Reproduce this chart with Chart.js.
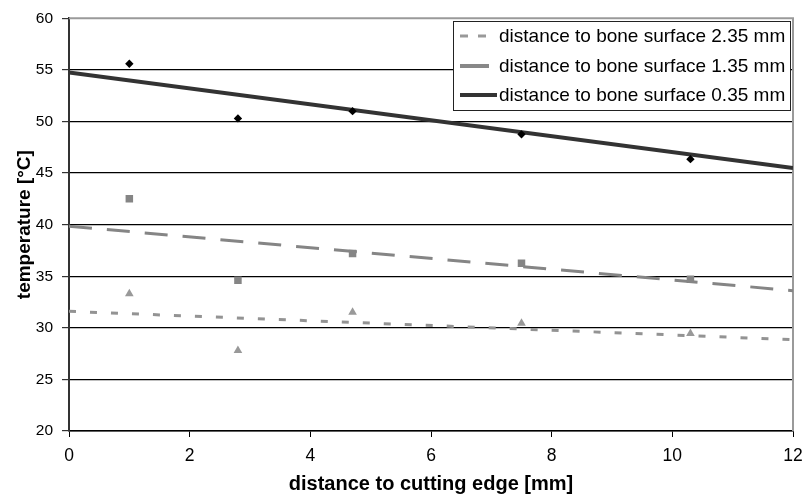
<!DOCTYPE html>
<html>
<head>
<meta charset="utf-8">
<script src="https://cdn.jsdelivr.net/npm/chart.js@4.4.0/dist/chart.umd.min.js"></script>
<style>
  html, body { margin: 0; padding: 0; background: #fff; }
  #wrap { width: 805px; height: 502px; }
</style>
</head>
<body>
<div id="wrap"><canvas id="tempChart" width="805" height="502"></canvas></div>
<script>
// Measured temperatures at each distance to the cutting edge
const edgeDistance = [1, 2.8, 4.7, 7.5, 10.3];
const temp035 = [55.6, 50.3, 51.0, 48.75, 46.35];
const temp135 = [42.5, 34.6, 37.2, 36.25, 34.7];
const temp235 = [33.3, 27.8, 31.5, 30.45, 29.45];

// Linear trend lines (values at x = 0 and x = 12)
const trendX = [0, 12];
const trend035 = [54.75, 45.5];
const trend135 = [39.85, 33.6];
const trend235 = [31.6, 28.85];

const seriesLabels = [
    'distance to bone surface 2.35 mm',
    'distance to bone surface 1.35 mm',
    'distance to bone surface 0.35 mm'
];

const toPoints = (xs, ys) => xs.map((x, i) => ({ x: x, y: ys[i] }));

// Plot frame (gray top and right edge) plus the boxed legend inside the plot
const frameAndLegend = {
    id: 'frameAndLegend',
    beforeDatasetsDraw(chart) {
        const { ctx, chartArea: a } = chart;
        ctx.save();
        ctx.strokeStyle = '#9a9a9a';
        ctx.lineWidth = 2;
        ctx.beginPath();
        ctx.moveTo(a.left, a.top);
        ctx.lineTo(a.right, a.top);
        ctx.lineTo(a.right, a.bottom);
        ctx.stroke();
        ctx.restore();
    },
    afterDraw(chart) {
        const ctx = chart.ctx;
        const box = { x: 453.5, y: 21.5, w: 337, h: 89 };
        ctx.save();
        ctx.fillStyle = '#fff';
        ctx.fillRect(box.x, box.y, box.w, box.h);
        ctx.strokeStyle = '#222';
        ctx.lineWidth = 1;
        ctx.strokeRect(box.x, box.y, box.w, box.h);

        const rows = [36, 66, 95];
        const samples = [
            { color: '#999', width: 3, dash: [8, 10], x1: 460, x2: 488 },
            { color: '#888', width: 4, dash: [], x1: 460, x2: 489 },
            { color: '#333', width: 4, dash: [], x1: 460, x2: 497 }
        ];
        ctx.font = '19px "Liberation Sans", Arial, sans-serif';
        ctx.textBaseline = 'middle';
        ctx.textAlign = 'left';
        samples.forEach((s, i) => {
            ctx.strokeStyle = s.color;
            ctx.lineWidth = s.width;
            ctx.setLineDash(s.dash);
            ctx.beginPath();
            ctx.moveTo(s.x1, rows[i]);
            ctx.lineTo(s.x2, rows[i]);
            ctx.stroke();
            ctx.setLineDash([]);
            ctx.fillStyle = '#000';
            ctx.fillText(seriesLabels[i], 499, rows[i] + 1);
        });
        ctx.restore();
    }
};

const ctx = document.getElementById('tempChart').getContext('2d');
new Chart(ctx, {
    type: 'scatter',
    data: {
        datasets: [
            {
                label: '0.35 mm',
                data: toPoints(edgeDistance, temp035),
                pointStyle: 'rectRot',
                pointRadius: 4.2,
                backgroundColor: '#000',
                borderColor: '#000',
                borderWidth: 0
            },
            {
                label: '1.35 mm',
                data: toPoints(edgeDistance, temp135),
                pointStyle: 'rect',
                pointRadius: 5.3,
                backgroundColor: '#858585',
                borderColor: '#858585',
                borderWidth: 0
            },
            {
                label: '2.35 mm',
                data: toPoints(edgeDistance, temp235),
                pointStyle: 'triangle',
                pointRadius: 5,
                backgroundColor: '#999',
                borderColor: '#999',
                borderWidth: 0
            },
            {
                label: seriesLabels[2],
                data: toPoints(trendX, trend035),
                showLine: true,
                pointRadius: 0,
                borderColor: '#333',
                borderWidth: 4
            },
            {
                label: seriesLabels[1],
                data: toPoints(trendX, trend135),
                showLine: true,
                pointRadius: 0,
                borderColor: '#858585',
                borderWidth: 3,
                borderDash: [23, 15]
            },
            {
                label: seriesLabels[0],
                data: toPoints(trendX, trend235),
                showLine: true,
                pointRadius: 0,
                borderColor: '#939393',
                borderWidth: 3,
                borderDash: [7, 14]
            }
        ]
    },
    options: {
        responsive: false,
        animation: false,
        layout: { padding: { top: 16, right: 12, left: 0, bottom: 0 } },
        plugins: {
            legend: { display: false },
            tooltip: { enabled: false }
        },
        scales: {
            x: {
                type: 'linear',
                min: 0,
                max: 12,
                afterFit(scale) {
                    scale.height = 71;
                    // last tick label may hang past the frame
                    scale.paddingRight = 0;
                    scale.paddingLeft = 0;
                },
                ticks: {
                    stepSize: 2,
                    color: '#000',
                    padding: 9,
                    font: { family: '"Liberation Sans", Arial, sans-serif', size: 17.5 }
                },
                grid: {
                    drawOnChartArea: false,
                    drawTicks: true,
                    tickLength: 6,
                    color: '#000'
                },
                border: { color: '#000', width: 1.5 },
                title: {
                    display: true,
                    text: 'distance to cutting edge [mm]',
                    color: '#000',
                    padding: { top: 0, bottom: 6 },
                    font: { family: '"Liberation Sans", Arial, sans-serif', size: 20, weight: 'bold', lineHeight: 1.2 }
                }
            },
            y: {
                min: 20,
                max: 60,
                afterFit(scale) { scale.width = 69; },
                ticks: {
                    stepSize: 5,
                    color: '#000',
                    padding: 9,
                    font: { family: '"Liberation Sans", Arial, sans-serif', size: 15.5 }
                },
                grid: {
                    drawTicks: true,
                    tickLength: 7,
                    color: (c) => (c.tick && c.tick.value === 60 ? 'rgba(0,0,0,0)' : '#000'),
                    tickColor: '#333',
                    lineWidth: 1.2
                },
                border: { color: '#333', width: 2 },
                title: {
                    display: true,
                    text: 'temperature [°C]',
                    color: '#000',
                    padding: { top: 13, bottom: 0 },
                    font: { family: '"Liberation Sans", Arial, sans-serif', size: 19, weight: 'bold', lineHeight: 1.2 }
                }
            }
        }
    },
    plugins: [frameAndLegend]
});
</script>
</body>
</html>
